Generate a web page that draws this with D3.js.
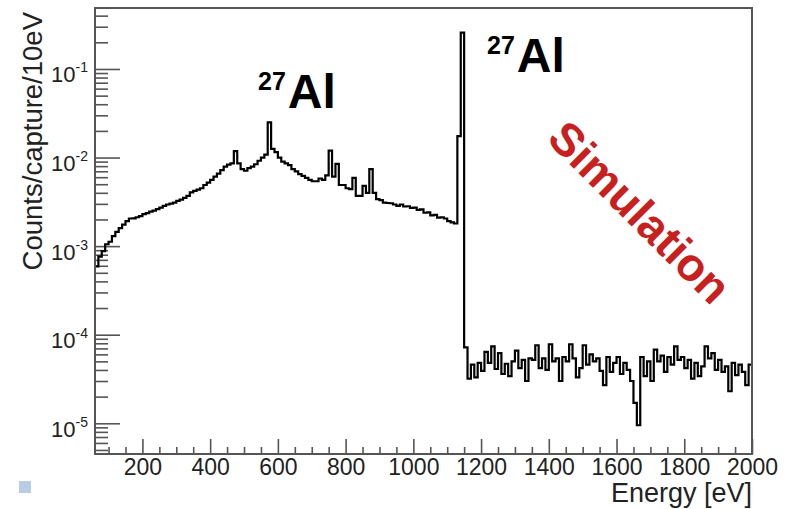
<!DOCTYPE html>
<html>
<head>
<meta charset="utf-8">
<script src="https://cdn.jsdelivr.net/npm/d3@7"></script>
<style>
  body { margin: 0; background: #fff; }
  text { font-family: "Liberation Sans", Arial, sans-serif; }
</style>
</head>
<body>
<div id="chart"></div>
<script>
var width = 786;
var height = 509;
var margin = { top: 8, right: 34, bottom: 55, left: 95 };

// histogram: 10 eV bins starting at 60 eV
var binStart = 60;
var binWidth = 10;

// 60 .. 1140 eV (continuum + the two 27Al regions)
var lowCounts = [
    5.9e-4, 7.6e-4, 8.8e-4, 1.05e-3, 1.12e-3, 1.30e-3, 1.45e-3, 1.60e-3, 1.75e-3, 1.92e-3,
    2.05e-3, 2.06e-3, 2.12e-3, 2.18e-3, 2.30e-3, 2.36e-3, 2.45e-3, 2.52e-3, 2.62e-3, 2.72e-3,
    2.85e-3, 2.95e-3, 3.02e-3, 3.10e-3, 3.25e-3, 3.35e-3, 3.50e-3, 3.70e-3, 4.05e-3, 4.20e-3,
    4.35e-3, 4.5e-3, 4.9e-3, 5.2e-3, 5.6e-3, 6.1e-3, 6.6e-3, 7.2e-3, 7.9e-3, 8.3e-3,
    8.6e-3, 1.18e-2, 8.6e-3, 7.4e-3, 7.1e-3, 7.6e-3, 7.9e-3, 8.4e-3, 9.2e-3, 1.0e-2,
    1.08e-2, 2.5e-2, 1.25e-2, 1.15e-2, 1.0e-2, 9.0e-3, 8.6e-3, 8.2e-3, 7.4e-3, 7.0e-3,
    6.5e-3, 6.2e-3, 5.9e-3, 5.6e-3, 5.4e-3, 5.4e-3, 5.8e-3, 5.6e-3, 6.3e-3, 1.2e-2,
    6.1e-3, 8.5e-3, 4.9e-3, 4.9e-3, 4.5e-3, 4.4e-3, 5.9e-3, 3.7e-3, 3.7e-3, 4.8e-3,
    4.0e-3, 7.4e-3, 4.0e-3, 3.4e-3, 3.3e-3, 3.1e-3, 3.07e-3, 3.05e-3, 2.95e-3, 2.85e-3,
    2.95e-3, 2.8e-3, 2.82e-3, 2.7e-3, 2.72e-3, 2.56e-3, 2.6e-3, 2.38e-3, 2.4e-3, 2.22e-3,
    2.25e-3, 2.1e-3, 2.12e-3, 2.05e-3, 1.92e-3, 1.85e-3, 1.8e-3, 1.75e-2, 0.257
];

// 1150 .. 2000 eV (flat tail)
var tailCounts = [
    7.2e-5, 3.2e-5, 4.6e-5, 3.3e-5, 4.8e-5, 3.9e-5, 6.4e-5, 4.8e-5, 7.4e-5, 4.1e-5,
    6.2e-5, 3.6e-5, 4.7e-5, 3.4e-5, 5.0e-5, 6.6e-5, 4.2e-5, 5.2e-5, 3.0e-5, 5.4e-5,
    5.2e-5, 7.6e-5, 4.2e-5, 5.4e-5, 4.0e-5, 7.8e-5, 5.0e-5, 5.4e-5, 3.0e-5, 5.6e-5,
    5.0e-5, 7.8e-5, 5.4e-5, 3.3e-5, 4.2e-5, 7.6e-5, 4.6e-5, 6.0e-5, 5.0e-5, 5.4e-5,
    3.9e-5, 2.7e-5, 5.6e-5, 3.8e-5, 4.8e-5, 5.6e-5, 3.6e-5, 4.8e-5, 4.0e-5, 3.0e-5,
    1.7e-5, 9.5e-6, 5.6e-5, 3.4e-5, 5.0e-5, 3.0e-5, 6.8e-5, 5.0e-5, 5.8e-5, 3.8e-5,
    5.6e-5, 4.6e-5, 7.4e-5, 5.2e-5, 5.6e-5, 4.2e-5, 5.2e-5, 3.2e-5, 4.8e-5, 3.4e-5,
    4.4e-5, 7.4e-5, 5.4e-5, 6.2e-5, 4.0e-5, 5.2e-5, 3.8e-5, 4.4e-5, 2.3e-5, 4.8e-5,
    3.5e-5, 4.6e-5, 3.8e-5, 2.7e-5, 4.6e-5
];

var xTicks = [200, 400, 600, 800, 1000, 1200, 1400, 1600, 1800, 2000];
var yDecades = [-5, -4, -3, -2, -1];

var counts = lowCounts.concat(tailCounts);
var bins = counts.map(function(v, i) {
    return { x0: binStart + i * binWidth, v: v };
});
// closing edge so the last bin gets its full width
bins.push({ x0: binStart + counts.length * binWidth, v: counts[counts.length - 1] });

var xScale = d3.scaleLinear()
    .domain([60, 2000])
    .range([margin.left, width - margin.right]);

var yScale = d3.scaleLog()
    .domain([4.5e-6, 0.488])
    .range([height - margin.bottom, margin.top]);

var svg = d3.select("#chart")
    .append("svg")
    .attr("width", width)
    .attr("height", height);

var plotBottom = height - margin.bottom;
var axisColor = "#555";

// x axis, ticks pointing into the frame
var xMinor = d3.range(100, 2001, 50).filter(function(d) { return d % 200 !== 0; });

svg.append("g")
    .attr("transform", "translate(0," + plotBottom + ")")
    .call(d3.axisBottom(xScale).tickValues(xMinor).tickSize(-7).tickFormat(""))
    .call(function(g) { g.select(".domain").remove(); });

svg.append("g")
    .attr("class", "x-axis")
    .attr("transform", "translate(0," + plotBottom + ")")
    .call(d3.axisBottom(xScale)
        .tickValues(xTicks)
        .tickSize(-15)
        .tickPadding(5)
        .tickFormat(d3.format("d")))
    .call(function(g) { g.select(".domain").remove(); });

// y axis, log decades with 2..9 minors
var yMinor = [];
d3.range(-6, 0).forEach(function(p) {
    for (var m = 2; m <= 9; m++) {
        var v = m * Math.pow(10, p);
        if (v >= 4.5e-6 && v <= 0.488) yMinor.push(v);
    }
});

svg.append("g")
    .attr("transform", "translate(" + margin.left + ",0)")
    .call(d3.axisLeft(yScale).tickValues(yMinor).tickSize(-13).tickFormat(""))
    .call(function(g) { g.select(".domain").remove(); });

svg.append("g")
    .attr("class", "y-axis")
    .attr("transform", "translate(" + margin.left + ",0)")
    .call(d3.axisLeft(yScale)
        .tickValues(yDecades.map(function(p) { return Math.pow(10, p); }))
        .tickSize(-25)
        .tickPadding(7)
        .tickFormat(""))
    .call(function(g) { g.select(".domain").remove(); });

svg.selectAll(".tick line")
    .attr("stroke", axisColor)
    .attr("stroke-width", 1.6);

svg.selectAll(".x-axis .tick text")
    .attr("fill", "#222")
    .style("font-family", "'Liberation Sans', Arial, sans-serif")
    .style("font-size", "23px");

svg.selectAll(".y-axis .tick text")
    .data(yDecades)
    .attr("fill", "#222")
    .attr("dy", "13px")
    .style("font-family", "'Liberation Sans', Arial, sans-serif")
    .each(function(p) {
        var t = d3.select(this);
        t.append("tspan").style("font-size", "22px").text("10");
        t.append("tspan").style("font-size", "14px").attr("dy", "-10px").text(p);
    });

// histogram
svg.append("defs").append("clipPath")
    .attr("id", "plot-clip")
    .append("rect")
    .attr("x", margin.left)
    .attr("y", margin.top)
    .attr("width", width - margin.left - margin.right)
    .attr("height", plotBottom - margin.top);

var line = d3.line()
    .x(function(d) { return xScale(d.x0); })
    .y(function(d) { return yScale(d.v); })
    .curve(d3.curveStepAfter);

svg.append("path")
    .datum(bins)
    .attr("clip-path", "url(#plot-clip)")
    .attr("fill", "none")
    .attr("stroke", "#000")
    .attr("stroke-width", 2.2)
    .attr("d", line);

// frame
svg.append("rect")
    .attr("x", margin.left)
    .attr("y", margin.top)
    .attr("width", width - margin.left - margin.right)
    .attr("height", plotBottom - margin.top)
    .attr("fill", "none")
    .attr("stroke", axisColor)
    .attr("stroke-width", 2);

// axis titles
svg.append("text")
    .attr("x", width - margin.right)
    .attr("y", 502)
    .attr("text-anchor", "end")
    .attr("fill", "#222")
    .style("font-size", "27px")
    .text("Energy [eV]");

svg.append("text")
    .attr("transform", "translate(42,12) rotate(-90)")
    .attr("text-anchor", "end")
    .attr("fill", "#222")
    .style("font-size", "27.5px")
    .text("Counts/capture/10eV");

// peak labels
function isotopeLabel(x, y) {
    var t = svg.append("text")
        .attr("x", x)
        .attr("y", y)
        .attr("fill", "#000")
        .style("font-weight", "bold");
    t.append("tspan").style("font-size", "25px").attr("dy", "-18px").text("27");
    t.append("tspan").style("font-size", "48px").attr("dy", "18px").attr("dx", "2px").text("Al");
}
isotopeLabel(258, 108);
isotopeLabel(487, 72);

svg.append("text")
    .attr("transform", "translate(640,212) rotate(45)")
    .attr("text-anchor", "middle")
    .attr("dy", "0.35em")
    .attr("fill", "#c8201e")
    .style("font-size", "46px")
    .style("font-weight", "bold")
    .text("Simulation");

// small marker in the corner
svg.append("rect")
    .attr("x", 19)
    .attr("y", 481)
    .attr("width", 12)
    .attr("height", 12)
    .attr("fill", "#b8cce4");
</script>
</body>
</html>
